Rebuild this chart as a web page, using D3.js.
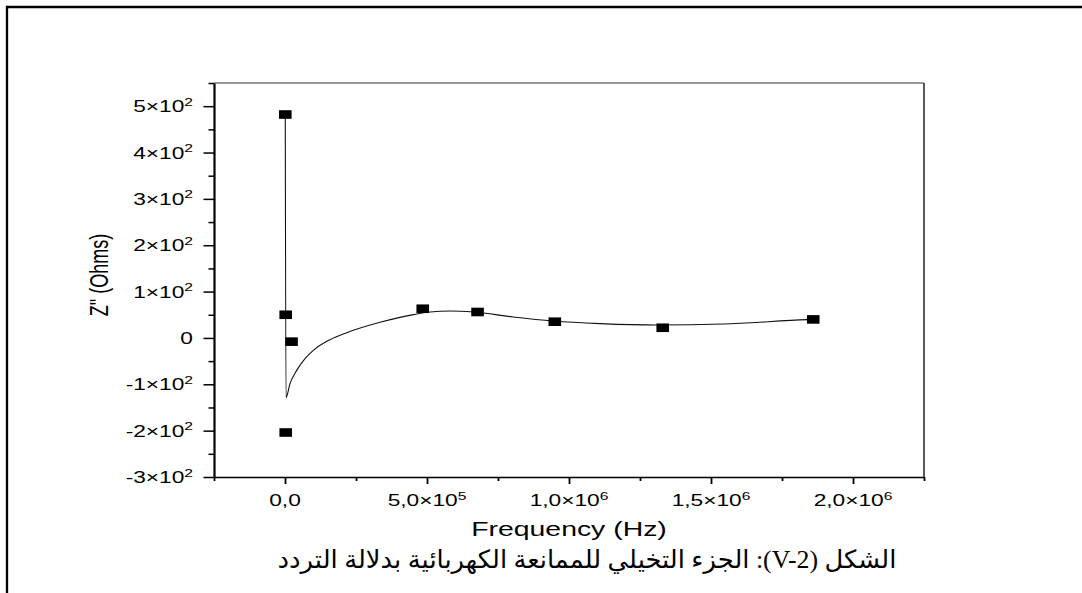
<!DOCTYPE html>
<html>
<head>
<meta charset="utf-8">
<script src="https://cdn.jsdelivr.net/npm/d3@7"></script>
<style>
  body { margin: 0; background: #fff; }
  text { font-family: "Liberation Sans", Arial, sans-serif; fill: #000; }
  .caption { font-family: "Times New Roman", "DejaVu Sans", serif; }
</style>
</head>
<body>
<div id="chart"></div>
<script>
// measured points (Hz, Ohms)
var freq  = [1000, 2500, 2500, 23000, 485000, 678000, 950000, 1330000, 1860000];
var zImag = [482, 50, -204, -8, 63, 56, 35, 22, 40];

// smoothed curve
var fitFreq = [1000, 3500, 17600, 41200, 70500, 99700, 158600, 217500, 334800, 452000,
               511000, 581000, 663000, 804000, 945000, 1110000, 1310000, 1544000, 1838000, 1860000];
var fitZ    = [482, -129, -98.6, -70, -44.7, -26.8, -3.7, 11.4, 33.7, 50.3,
               55.9, 58, 55.9, 45.1, 36.5, 30.9, 27.8, 30, 39.5, 40];

// ticks
var xMajor = [0, 5e5, 1e6, 1.5e6, 2e6];
var xMinor = [-2.5e5, 2.5e5, 7.5e5, 1.25e6, 1.75e6, 2.25e6];
var yMajor = [-300, -200, -100, 0, 100, 200, 300, 400, 500];
var yMinor = [-250, -150, -50, 50, 150, 250, 350, 450, 550];

var xTitle = "Frequency (Hz)";
var yTitle = "Z\" (Ohms)";
var caption = "الشكل (V-2): الجزء التخيلي للممانعة الكهربائية بدلالة التردد";

var W = 1082, H = 593;
var margin = {top: 83, right: 158, bottom: 116, left: 214};
var SX = 1.42; // the figure is stretched horizontally

var svg = d3.select("#chart").append("svg")
    .attr("width", W)
    .attr("height", H);

// page frame (top and left only)
svg.append("path")
    .attr("d", "M7,593V7H1082")
    .attr("fill", "none")
    .attr("stroke", "#000")
    .attr("stroke-width", 2.3);

var x = d3.scaleLinear()
    .domain([-2.5e5, 2.25e6])
    .range([margin.left, W - margin.right]);

var y = d3.scaleLinear()
    .domain([-300, 550])
    .range([H - margin.bottom, margin.top]);

function sci(v, dec) {
    if (v === 0) return {m: dec ? "0,0" : "0", e: null};
    var e = Math.floor(Math.log10(Math.abs(v)));
    var m = v / Math.pow(10, e);
    return {m: (dec ? m.toFixed(dec).replace(".", ",") : String(Math.round(m))) + "×10", e: e};
}

function label(g, px, py, v, dec, anchor) {
    var s = sci(v, dec);
    var t = g.append("text")
        .attr("transform", "translate(" + px + "," + py + ") scale(" + SX + ",1)")
        .attr("text-anchor", anchor)
        .style("font-size", "16px")
        .text(s.m);
    if (s.e !== null) {
        t.append("tspan")
            .attr("dy", -6.5)
            .style("font-size", "11px")
            .text(s.e);
    }
}

// frame: top and right
svg.append("line")
    .attr("x1", x.range()[0]).attr("x2", x.range()[1])
    .attr("y1", y.range()[1]).attr("y2", y.range()[1])
    .attr("stroke", "#333").attr("stroke-width", 1.2);
svg.append("line")
    .attr("x1", x.range()[1]).attr("x2", x.range()[1])
    .attr("y1", y.range()[0]).attr("y2", y.range()[1])
    .attr("stroke", "#222").attr("stroke-width", 1.5);

// x axis
var xAxisG = svg.append("g").attr("transform", "translate(0," + y.range()[0] + ")");
xAxisG.call(d3.axisBottom(x).tickValues(xMajor).tickSize(7).tickSizeOuter(0).tickFormat(""));
var xMinorG = svg.append("g").attr("transform", "translate(0," + y.range()[0] + ")");
xMinorG.call(d3.axisBottom(x).tickValues(xMinor).tickSize(4).tickSizeOuter(0).tickFormat(""));
xAxisG.select(".domain").attr("stroke-width", 1.6);
xMinorG.select(".domain").remove();
svg.selectAll("g .tick line").attr("stroke-width", 1.8);

xMajor.forEach(function (v) {
    label(svg, x(v), 506, v, 1, "middle");
});

// y axis
var yAxisG = svg.append("g").attr("transform", "translate(" + x.range()[0] + ",0)");
yAxisG.call(d3.axisLeft(y).tickValues(yMajor).tickSize(10.5).tickSizeOuter(0).tickFormat(""));
var yMinorG = svg.append("g").attr("transform", "translate(" + x.range()[0] + ",0)");
yMinorG.call(d3.axisLeft(y).tickValues(yMinor).tickSize(5.5).tickSizeOuter(0).tickFormat(""));
yAxisG.select(".domain").attr("stroke-width", 2.2);
yMinorG.select(".domain").remove();
yAxisG.selectAll(".tick line").attr("stroke-width", 1.5);
yMinorG.selectAll(".tick line").attr("stroke-width", 1.5);

yMajor.forEach(function (v) {
    label(svg, 193, y(v) + 6, v, 0, "end");
});

// fit curve
var fit = fitFreq.map(function (f, i) { return [f, fitZ[i]]; });
var line = d3.line()
    .x(function (d) { return x(d[0]); })
    .y(function (d) { return y(d[1]); })
    .curve(d3.curveMonotoneX);

svg.append("path")
    .datum(fit)
    .attr("d", line)
    .attr("fill", "none")
    .attr("stroke", "#111")
    .attr("stroke-width", 1.1);

// data markers
svg.selectAll("rect.pt")
    .data(freq)
    .enter()
    .append("rect")
    .attr("class", "pt")
    .attr("x", function (d) { return x(d) - 6.3; })
    .attr("y", function (d, i) { return y(zImag[i]) - 4.3; })
    .attr("width", 12.6)
    .attr("height", 8.6)
    .attr("fill", "#000");

// axis titles
svg.append("text")
    .attr("transform", "translate(" + ((x.range()[0] + x.range()[1]) / 2) + ",536) scale(" + SX + ",1)")
    .attr("text-anchor", "middle")
    .style("font-size", "20px")
    .text(xTitle);

svg.append("text")
    .attr("transform", "translate(108,275) rotate(-90) scale(1," + SX + ")")
    .attr("text-anchor", "middle")
    .style("font-size", "18px")
    .text(yTitle);

// caption, fitted to the width it has in the figure
var cap = svg.append("text")
    .attr("class", "caption")
    .attr("direction", "rtl")
    .attr("text-anchor", "middle")
    .style("font-size", "25px")
    .text(caption);
var capW = cap.node().getComputedTextLength();
cap.attr("transform", "translate(587,568) scale(" + (619 / capW) + ",1)");
</script>
</body>
</html>
